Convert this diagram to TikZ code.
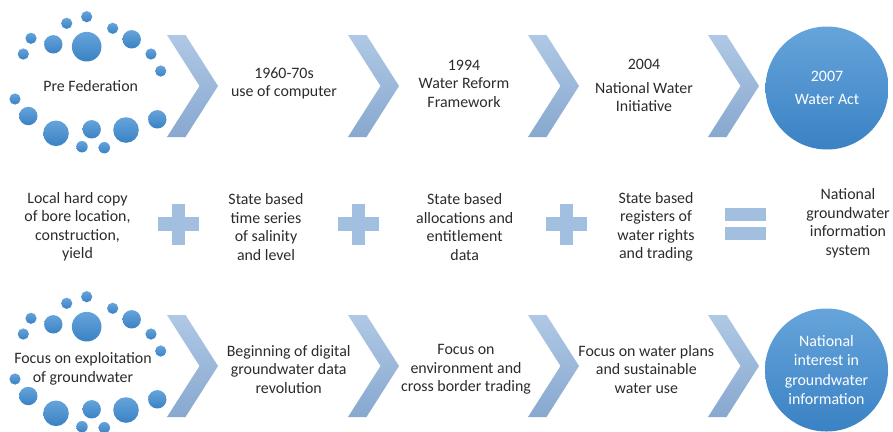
\documentclass[tikz,border=0pt]{standalone}
\usepackage{fontspec}
\setmainfont{Carlito}
\definecolor{txtgray}{HTML}{2B2B2B}
\definecolor{dottop}{HTML}{66A4DB}
\definecolor{dotbot}{HTML}{3A82C4}
\definecolor{chevtop}{HTML}{AFC8E5}
\definecolor{chevbot}{HTML}{88A8CF}
\definecolor{signblue}{HTML}{A3BFDF}
\begin{document}
\begin{tikzpicture}[x=1pt,y=-1pt,
  txt/.style={align=center, text=txtgray, font=\fontsize{15.9}{18.5}\selectfont, inner sep=0pt},
  wtxt/.style={txt, text=white},
  blob/.style={top color=dottop, bottom color=dotbot, draw=none},
  chev/.style={top color=chevtop, bottom color=chevbot, draw=none},
  sign/.style={fill=signblue, draw=none},
  bigdisc/.style={circle, minimum size=123pt, top color=dottop, bottom color=dotbot},
  chevpic/.pic={\path[chev] (0,0) -- (18.5,0) -- (51,51) -- (18.5,102) -- (0,102) -- (32.5,51) -- cycle;},
  dotring/.pic={
    \foreach \dx/\dy/\r in {86.7/16.7/5.6, 66.7/23.3/5.6, 112.7/28.3/5.6, 31/38.3/5.6,
        53.3/44.3/9.2, 86.7/46.7/14.8, 131.7/39.3/9.2, 23.3/54/5.6, 151/54/5.6,
        160.7/71/5.6, 15/99/5.6, 28.3/116/9.2, 56/133.3/12.8, 91.7/129.3/9.2,
        126/130/12.8, 157.3/119.3/9.2, 82/146.7/5.7, 104.3/147.7/5.7}
      \path[blob] (\dx,\dy) circle[radius=\r pt];
  },
  plussign/.pic={
    \path[sign] (-20.5,-7) rectangle (20.5,7);
    \path[sign] (-6.5,-20.5) rectangle (6.5,20.5);
  },
  equalsign/.pic={
    \path[sign] (-20.5,-16.3) rectangle (20.5,-3.3);
    \path[sign] (-20.5,3.3) rectangle (20.5,16.3);
  }
]
\useasboundingbox (0,0) rectangle (893,431);

% ---- top row: milestones ----
\pic at (0,0) {dotring};
\node[txt] (pre) at (90.7,86) {Pre Federation};
\pic at (167,35) {chevpic};
\node[txt] (comp) at (284,83.5) {1960-70s\\use of computer};
\pic at (348,35) {chevpic};
\node[txt] (wrf) at (464,83.7) {1994\\Water Reform\\Framework};
\pic at (528,35) {chevpic};
\node[txt] (nwi) at (644,85.5) {2004\\[5pt]National Water\\Initiative};
\pic at (708,35) {chevpic};
\node[bigdisc, wtxt] (act) at (827,88) {2007\\[5pt]Water Act};

% ---- middle row: data sources ----
\node[txt] (bore) at (77.5,227) {Local hard copy\\of bore location,\\construction,\\yield};
\pic at (178.8,224) {plussign};
\node[txt] (series) at (266,227) {State based\\time series\\of salinity\\and level};
\pic at (358.8,224) {plussign};
\node[txt] (alloc) at (464.7,227) {State based\\allocations and\\entitlement\\data};
\pic at (566.3,224) {plussign};
\node[txt] (regs) at (656,227) {State based\\registers of\\water rights\\and trading};
\pic at (745.7,224) {equalsign};
\node[txt] (ngis) at (848,223.5) {National\\groundwater\\information\\system};

% ---- bottom row: focus ----
\pic at (0,280) {dotring};
\node[txt] (expl) at (83,369) {Focus on exploitation\\of groundwater};
\pic at (167,315) {chevpic};
\node[txt] (digi) at (288.7,369.5) {Beginning of digital\\groundwater data\\revolution};
\pic at (348,315) {chevpic};
\node[txt] (env) at (466,369.5) {Focus on\\environment and\\cross border trading};
\pic at (528,315) {chevpic};
\node[txt] (plans) at (646.3,369.5) {Focus on water plans\\and sustainable\\water use};
\pic at (708,315) {chevpic};
\node[bigdisc, wtxt, font=\fontsize{15.9}{19.4}\selectfont] (natl) at (826.5,370) {National\\interest in\\groundwater\\information};
\end{tikzpicture}
\end{document}
